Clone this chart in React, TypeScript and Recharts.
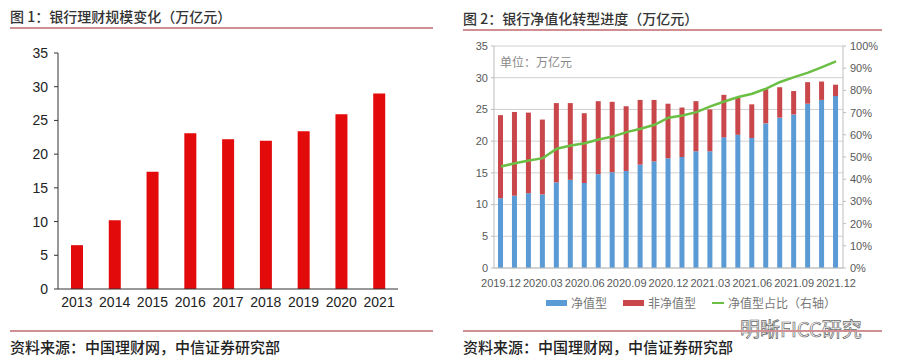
import React from 'react';
import {
  BarChart,
  Bar,
  ComposedChart,
  Line,
  XAxis,
  YAxis,
  CartesianGrid,
} from 'recharts';

// 图1 银行理财规模（万亿元）
const years = ['2013', '2014', '2015', '2016', '2017', '2018', '2019', '2020', '2021'];
const scale = [6.5, 10.2, 17.4, 23.1, 22.2, 22.0, 23.4, 25.9, 29.0];

// 图2 净值化转型进度
const months = [
  '2019.12', '2020.01', '2020.02', '2020.03', '2020.04', '2020.05', '2020.06',
  '2020.07', '2020.08', '2020.09', '2020.10', '2020.11', '2020.12', '2021.01',
  '2021.02', '2021.03', '2021.04', '2021.05', '2021.06', '2021.07', '2021.08',
  '2021.09', '2021.10', '2021.11', '2021.12',
];
const netValue = [
  11.0, 11.4, 11.8, 11.6, 13.5, 13.9, 13.4, 14.8, 15.1, 15.3, 16.3, 16.8, 17.3,
  17.5, 18.4, 18.4, 20.6, 21.0, 20.5, 22.8, 23.7, 24.2, 25.9, 26.5, 27.1,
];
const nonNetValue = [
  13.1, 13.2, 12.7, 11.8, 12.5, 12.1, 11.0, 11.5, 11.1, 10.2, 10.2, 9.7, 8.6,
  7.8, 7.9, 6.6, 6.7, 5.9, 5.3, 5.4, 4.8, 3.7, 3.4, 2.9, 1.8,
];
const netShare = [
  45.7, 47.2, 48.4, 49.5, 53.7, 55.2, 56.2, 57.9, 59.2, 61.2, 62.7, 64.5, 67.7,
  68.7, 70.2, 72.8, 75.0, 77.0, 78.5, 80.8, 83.8, 86.0, 88.0, 90.5, 93.1,
];
const leftTicks = [0, 5, 10, 15, 20, 25, 30, 35];
const pctTicks = [0, 10, 20, 30, 40, 50, 60, 70, 80, 90, 100];

const scaleData = years.map((year, i) => ({ year, value: scale[i] }));
const progressData = months.map((month, i) => ({
  month,
  net: netValue[i],
  nonNet: nonNetValue[i],
  share: netShare[i],
}));

const TITLE_FONT = '"Noto Sans CJK SC", "Liberation Sans", sans-serif';
const TICK_FONT = '"Liberation Sans", Arial, sans-serif';

function Header({ text, left, top, width }: { text: string; left: number; top: number; width: number }) {
  return (
    <div style={{ position: 'absolute', left, top, width }}>
      <div style={{ fontSize: 14, color: '#333', lineHeight: '16px', fontFamily: TITLE_FONT, fontWeight: 500 }}>
        {text}
      </div>
      <div style={{ height: 1.5, background: '#cf8f93', marginTop: 3 }} />
    </div>
  );
}

function Footer({ left, width }: { left: number; width: number }) {
  return (
    <div style={{ position: 'absolute', left, top: 330, width }}>
      <div style={{ height: 1.5, background: '#cf8f93' }} />
      <div style={{ fontSize: 15, color: '#222', marginTop: 4, fontFamily: TITLE_FONT, fontWeight: 500 }}>
        资料来源：中国理财网，中信证券研究部
      </div>
    </div>
  );
}

function LegendItem({ color, label, line }: { color: string; label: string; line?: boolean }) {
  return (
    <span style={{ display: 'inline-flex', alignItems: 'center', marginRight: 16 }}>
      <span
        style={{
          display: 'inline-block',
          width: line ? 12 : 21,
          height: line ? 2 : 6,
          background: color,
          marginRight: 4,
        }}
      />
      <span style={{ color: '#777', fontSize: 12 }}>{label}</span>
    </span>
  );
}

export default function App() {
  return (
    <div
      style={{
        position: 'absolute',
        left: 0,
        top: 0,
        width: 899,
        height: 361,
        background: '#fff',
        fontFamily: TICK_FONT,
        overflow: 'hidden',
      }}
    >
      <Header text="图 1：银行理财规模变化（万亿元）" left={10} top={8} width={423} />
      <Header text="图 2：银行净值化转型进度（万亿元）" left={463} top={10} width={419} />

      <div style={{ position: 'absolute', left: 0, top: 30 }}>
        <BarChart width={420} height={300} data={scaleData} margin={{ top: 23, right: 22, bottom: 11, left: 0 }}>
          <XAxis
            dataKey="year"
            height={30}
            tickLine={false}
            tickMargin={2}
            axisLine={{ stroke: '#333' }}
            tick={{ fontSize: 14, fill: '#222', fontFamily: TICK_FONT }}
          />
          <YAxis
            width={58}
            domain={[0, 35]}
            ticks={leftTicks}
            tickSize={4}
            tickMargin={6}
            axisLine={{ stroke: '#333' }}
            tickLine={{ stroke: '#333' }}
            tick={{ fontSize: 14, fill: '#222', fontFamily: TICK_FONT }}
          />
          <Bar dataKey="value" fill="#e20a0a" barSize={12} isAnimationActive={false} />
        </BarChart>
      </div>

      <div style={{ position: 'absolute', left: 450, top: 30 }}>
        <ComposedChart width={440} height={260} data={progressData} margin={{ top: 16, right: 0, bottom: 0, left: 0 }}>
          <CartesianGrid yAxisId="left" vertical={false} stroke="#d0d0d0" />
          <XAxis
            dataKey="month"
            height={22}
            interval={2}
            tickLine={false}
            tickMargin={5}
            axisLine={{ stroke: '#bdbdbd' }}
            tick={{ fontSize: 11, fill: '#595959', fontFamily: TICK_FONT }}
          />
          <YAxis
            yAxisId="left"
            width={44}
            domain={[0, 35]}
            ticks={leftTicks}
            tickSize={3}
            tickMargin={3}
            axisLine={{ stroke: '#bdbdbd' }}
            tickLine={{ stroke: '#bdbdbd' }}
            tick={{ fontSize: 11, fill: '#595959', fontFamily: TICK_FONT }}
          />
          <YAxis
            yAxisId="right"
            orientation="right"
            width={47}
            domain={[0, 100]}
            ticks={pctTicks}
            tickFormatter={(v: number) => `${v}%`}
            tickSize={3}
            tickMargin={4}
            axisLine={{ stroke: '#bdbdbd' }}
            tickLine={{ stroke: '#bdbdbd' }}
            tick={{ fontSize: 11, fill: '#595959', fontFamily: TICK_FONT }}
          />
          <Bar yAxisId="left" dataKey="net" stackId="a" fill="#5b9bd5" barSize={5} isAnimationActive={false} />
          <Bar yAxisId="left" dataKey="nonNet" stackId="a" fill="#c9464b" barSize={5} isAnimationActive={false} />
          <Line
            yAxisId="right"
            dataKey="share"
            type="linear"
            stroke="#6cbf45"
            strokeWidth={2.5}
            dot={false}
            isAnimationActive={false}
          />
        </ComposedChart>
      </div>

      <div
        style={{
          position: 'absolute',
          left: 500,
          top: 53,
          fontSize: 12,
          color: '#888',
          fontFamily: TITLE_FONT,
        }}
      >
        单位：万亿元
      </div>

      <div
        style={{
          position: 'absolute',
          left: 546,
          top: 296,
          display: 'flex',
          fontFamily: TITLE_FONT,
          lineHeight: '14px',
        }}
      >
        <LegendItem color="#5b9bd5" label="净值型" />
        <LegendItem color="#c9464b" label="非净值型" />
        <LegendItem color="#6cbf45" label="净值型占比（右轴）" line />
      </div>

      <div
        style={{
          position: 'absolute',
          left: 740,
          top: 319,
          fontSize: 20,
          color: '#fff',
          WebkitTextStroke: '0.7px #666',
          fontFamily: TITLE_FONT,
          lineHeight: '20px',
        }}
      >
        明晰FICC研究
      </div>

      <Footer left={10} width={423} />
      <Footer left={463} width={419} />
    </div>
  );
}
